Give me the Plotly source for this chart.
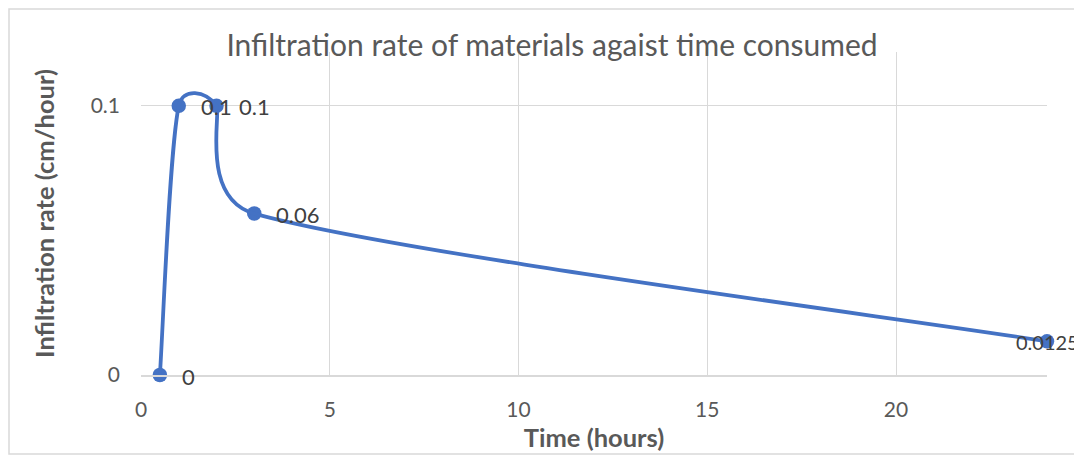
import math
import plotly.graph_objects as go

time_hours = [0.5, 1, 2, 3, 24]
infiltration_rate = [0, 0.1, 0.1, 0.06, 0.0125]
label_text = ["0", "0.1", "0.1", "0.06", "0.0125"]
x_ticks = [0, 5, 10, 15, 20]
y_ticks = [0, 0.1]

BLUE = "#4472C4"
GRAY = "#595959"
GRID = "#D9D9D9"
FONT = "Lato"

# page body has an 8px margin, so the figure is sized to fit the window
W, H = 1074, 448
M = dict(l=133, r=35, t=44, b=81)
X_RANGE = [0, 24]
Y_RANGE = [0, 0.12]
plot_w = W - M["l"] - M["r"]
plot_h = H - M["t"] - M["b"]
sx = plot_w / (X_RANGE[1] - X_RANGE[0])
sy = plot_h / (Y_RANGE[1] - Y_RANGE[0])


def smooth_path(xs, ys):
    """Excel-style smoothed line: cubic Bezier segments whose control points
    come from neighbouring data points (distances measured on screen)."""
    pts = [(x * sx, y * sy) for x, y in zip(xs, ys)]
    n = len(pts)

    def dist(a, b):
        return math.hypot(a[0] - b[0], a[1] - b[1])

    parts = [f"M {xs[0]},{ys[0]}"]
    for i in range(n - 1):
        p0 = pts[i - 1] if i > 0 else pts[i]
        p1 = pts[i]
        p2 = pts[i + 1]
        p3 = pts[i + 2] if i + 2 < n else pts[i + 1]
        d02, d12, d13 = dist(p0, p2), dist(p1, p2), dist(p1, p3)
        if d02 / 6 < d12 / 2 and d13 / 6 < d12 / 2:
            f0 = f3 = 1 / 6
        elif d02 / 6 >= d12 / 2 and d13 / 6 >= d12 / 2:
            f0 = d12 / 2 / d02
            f3 = d12 / 2 / d13
        elif d02 / 6 >= d12 / 2:
            f0 = f3 = d12 / 2 / d02
        else:
            f0 = f3 = d12 / 2 / d13
        b1 = (p1[0] + (p2[0] - p0[0]) * f0, p1[1] + (p2[1] - p0[1]) * f0)
        b2 = (p2[0] - (p3[0] - p1[0]) * f3, p2[1] - (p3[1] - p1[1]) * f3)
        parts.append(
            f"C {b1[0]/sx},{b1[1]/sy} {b2[0]/sx},{b2[1]/sy} {xs[i+1]},{ys[i+1]}"
        )
    return " ".join(parts)


fig = go.Figure()
fig.add_trace(go.Scatter(
    x=time_hours, y=infiltration_rate,
    mode="markers",
    marker=dict(color=BLUE, size=14.5),
    cliponaxis=False,
    hoverinfo="skip",
    showlegend=False,
))

annotations = []
for i, (xv, yv, t) in enumerate(zip(time_hours, infiltration_rate, label_text)):
    last = i == len(time_hours) - 1
    annotations.append(dict(
        x=xv, y=yv, xref="x", yref="y", text=t, showarrow=False,
        xanchor="left", yanchor="middle",
        xshift=-33 if last else 20, yshift=-1,
        font=dict(family=FONT, size=20 if last else 22, color="#404040"),
    ))

fig.update_layout(
    width=W, height=H,
    margin=M,
    paper_bgcolor="white", plot_bgcolor="white",
    title=dict(
        text="Infiltration rate of materials agaist time consumed",
        x=(552 - 8) / W, xanchor="center", xref="container",
        y=1 - (45 - 8) / H, yanchor="middle", yref="container",
        font=dict(family=FONT, size=30, color=GRAY),
        automargin=False,
    ),
    annotations=annotations,
    shapes=[
        dict(
            type="rect", xref="paper", yref="paper",
            x0=-0.1457, x1=1.06, y0=-0.2446, y1=1.133,
            line=dict(color=GRID, width=1.5), layer="below",
        ),
        dict(
            type="path", xref="x", yref="y",
            path=smooth_path(time_hours, infiltration_rate),
            line=dict(color=BLUE, width=3.8), layer="above",
        ),
    ],
)

fig.update_xaxes(
    range=X_RANGE, tickvals=x_ticks, ticktext=[str(v) for v in x_ticks],
    showgrid=True, gridcolor=GRID, gridwidth=1.2,
    showline=True, linecolor=GRID, linewidth=1.5,
    zeroline=False, ticks="", automargin=False,
    ticklabelstandoff=15,
    tickfont=dict(family=FONT, size=21, color=GRAY),
    title=dict(text="<b>Time (hours)</b>", standoff=9,
               font=dict(family=FONT, size=25.5, color=GRAY)),
)
fig.update_yaxes(
    range=Y_RANGE, tickvals=y_ticks, ticktext=["0", "0.1"],
    showgrid=True, gridcolor=GRID, gridwidth=1.2,
    showline=False, zeroline=False, ticks="", automargin=False,
    ticklabelstandoff=20,
    tickfont=dict(family=FONT, size=21, color=GRAY),
    title=dict(text="<b>Infiltration rate (cm/hour)</b>", standoff=28,
               font=dict(family=FONT, size=25.5, color=GRAY)),
)

fig.write_html("out.html")
